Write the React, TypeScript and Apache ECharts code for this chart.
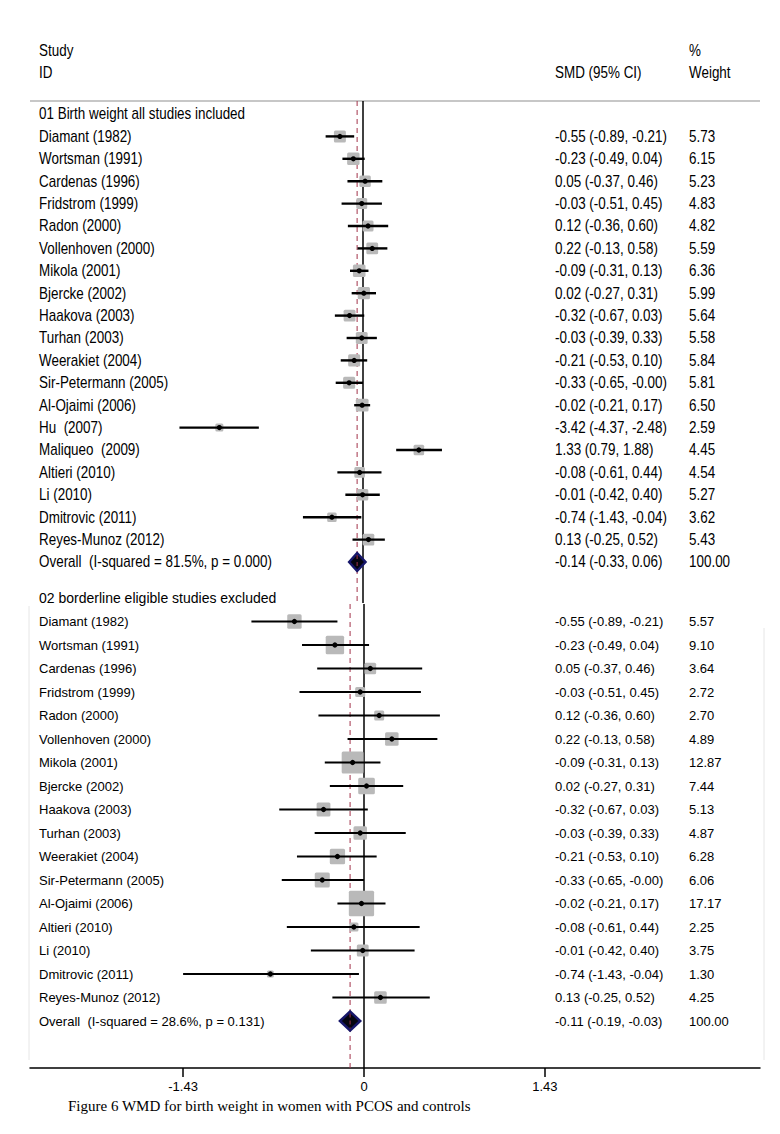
import { useEffect, useRef } from "react";
import * as echarts from "echarts";

// ---------- DATA ----------
const group1Title = "01 Birth weight all studies included";
const studies1 = [
  "Diamant (1982)", "Wortsman (1991)", "Cardenas (1996)", "Fridstrom (1999)", "Radon (2000)",
  "Vollenhoven (2000)", "Mikola (2001)", "Bjercke (2002)", "Haakova (2003)", "Turhan (2003)",
  "Weerakiet (2004)", "Sir-Petermann (2005)", "Al-Ojaimi (2006)", "Hu  (2007)", "Maliqueo  (2009)",
  "Altieri (2010)", "Li (2010)", "Dmitrovic (2011)", "Reyes-Munoz (2012)",
];
const smd1 = [-0.55, -0.23, 0.05, -0.03, 0.12, 0.22, -0.09, 0.02, -0.32, -0.03, -0.21, -0.33, -0.02, -3.42, 1.33, -0.08, -0.01, -0.74, 0.13];
const lo1 = [-0.89, -0.49, -0.37, -0.51, -0.36, -0.13, -0.31, -0.27, -0.67, -0.39, -0.53, -0.65, -0.21, -4.37, 0.79, -0.61, -0.42, -1.43, -0.25];
const hi1 = [-0.21, 0.04, 0.46, 0.45, 0.60, 0.58, 0.13, 0.31, 0.03, 0.33, 0.10, -0.0, 0.17, -2.48, 1.88, 0.44, 0.40, -0.04, 0.52];
const weight1 = [5.73, 6.15, 5.23, 4.83, 4.82, 5.59, 6.36, 5.99, 5.64, 5.58, 5.84, 5.81, 6.50, 2.59, 4.45, 4.54, 5.27, 3.62, 5.43];
const overall1 = [-0.14, -0.33, 0.06];
const het1 = ["81.5%", "0.000"];

const group2Title = "02 borderline eligible studies excluded";
const studies2 = [
  "Diamant (1982)", "Wortsman (1991)", "Cardenas (1996)", "Fridstrom (1999)", "Radon (2000)",
  "Vollenhoven (2000)", "Mikola (2001)", "Bjercke (2002)", "Haakova (2003)", "Turhan (2003)",
  "Weerakiet (2004)", "Sir-Petermann (2005)", "Al-Ojaimi (2006)", "Altieri (2010)", "Li (2010)",
  "Dmitrovic (2011)", "Reyes-Munoz (2012)",
];
const smd2 = [-0.55, -0.23, 0.05, -0.03, 0.12, 0.22, -0.09, 0.02, -0.32, -0.03, -0.21, -0.33, -0.02, -0.08, -0.01, -0.74, 0.13];
const lo2 = [-0.89, -0.49, -0.37, -0.51, -0.36, -0.13, -0.31, -0.27, -0.67, -0.39, -0.53, -0.65, -0.21, -0.61, -0.42, -1.43, -0.25];
const hi2 = [-0.21, 0.04, 0.46, 0.45, 0.60, 0.58, 0.13, 0.31, 0.03, 0.33, 0.10, -0.0, 0.17, 0.44, 0.40, -0.04, 0.52];
const weight2 = [5.57, 9.10, 3.64, 2.72, 2.70, 4.89, 12.87, 7.44, 5.13, 4.87, 6.28, 6.06, 17.17, 2.25, 3.75, 1.30, 4.25];
const overall2 = [-0.11, -0.19, -0.03];
const het2 = ["28.6%", "0.131"];

const xTickValues = [-1.43, 0, 1.43];
const headerLabels = ["Study", "ID", "SMD (95% CI)", "%", "Weight"];
const caption = "Figure 6 WMD for birth weight in women with PCOS and controls";

// ---------- STYLE ----------
const SANS = '"Liberation Sans", Arial, sans-serif';
const SERIF = '"Liberation Serif", "Times New Roman", serif';
const NARROW_FONT = `16px ${SANS}`;
const NARROW_SCALE = 0.84;

const fmt = (v: number) => (v < 0 || Object.is(v, -0) ? "-" : "") + Math.abs(v).toFixed(2);

type Panel = {
  title: string; names: string[]; smd: number[]; lo: number[]; hi: number[]; w: number[];
  overall: number[]; het: string[]; font: string; titleFont: string; sx: number; boxK: number; ciW: number; dH: number; grid: number;
};

const panels: Panel[] = [
  { title: group1Title, names: studies1, smd: smd1, lo: lo1, hi: hi1, w: weight1, overall: overall1, het: het1,
    font: NARROW_FONT, titleFont: NARROW_FONT, sx: NARROW_SCALE, boxK: 5.0, ciW: 2.4, dH: 9, grid: 0 },
  { title: group2Title, names: studies2, smd: smd2, lo: lo2, hi: hi2, w: weight2, overall: overall2, het: het2,
    font: `13px ${SANS}`, titleFont: `14px ${SANS}`, sx: 1, boxK: 6.1, ciW: 1.8, dH: 9.5, grid: 1 },
];

const COL_NAME = 39, COL_SMD = 555, COL_W = 689;

function txt(x: number, y: number, text: string, font: string, sx = 1) {
  return { type: "text", x, y, scaleX: sx, style: { text, font, fill: "#000", align: "left", verticalAlign: "middle" } };
}

function buildSeries(p: Panel) {
  const base = { type: "custom", xAxisIndex: p.grid, yAxisIndex: p.grid, clip: false, silent: true };
  const nRows = p.names.length;
  const lines = {
    ...base, z: 1,
    data: [[0, 0]],
    renderItem: (params: any, api: any) => {
      const cs = params.coordSys;
      const zx = api.coord([0, 0])[0];
      const ox = api.coord([p.overall[0], 0])[0];
      return {
        type: "group", children: [
          { type: "line", shape: { x1: zx, y1: cs.y, x2: zx, y2: cs.y + cs.height }, style: { stroke: "#000", lineWidth: 1.5 } },
          { type: "line", shape: { x1: ox, y1: cs.y, x2: ox, y2: cs.y + cs.height }, style: { stroke: "#a3334a", lineWidth: 1, lineDash: [5, 4] } },
        ],
      };
    },
  };
  const title = {
    ...base, z: 3,
    data: [[0, 0]],
    renderItem: (params: any, api: any) => {
      const y = api.coord([0, 0])[1];
      return txt(COL_NAME, y, p.title, p.titleFont, p.sx);
    },
  };
  const studies = {
    ...base, z: 2,
    encode: { x: [0, 2, 3], y: 1 },
    data: p.names.map((_, i) => [p.smd[i], i + 1, p.lo[i], p.hi[i], p.w[i]]),
    renderItem: (params: any, api: any) => {
      const i = params.dataIndex;
      const row = api.value(1);
      const c = api.coord([api.value(0), row]);
      const l = api.coord([api.value(2), row]);
      const h = api.coord([api.value(3), row]);
      const side = p.boxK * Math.sqrt(api.value(4));
      return {
        type: "group", children: [
          { type: "rect", shape: { x: c[0] - side / 2, y: c[1] - side / 2, width: side, height: side, r: 1.5 }, style: { fill: "#b9b9b9" } },
          { type: "line", shape: { x1: l[0], y1: c[1], x2: h[0], y2: c[1] }, style: { stroke: "#000", lineWidth: p.ciW } },
          { type: "circle", shape: { cx: c[0], cy: c[1], r: 2.6 }, style: { fill: "#000" } },
          txt(COL_NAME, c[1], p.names[i], p.font, p.sx),
          txt(COL_SMD, c[1], `${fmt(p.smd[i])} (${fmt(p.lo[i])}, ${fmt(p.hi[i])})`, p.font, p.sx),
          txt(COL_W, c[1], p.w[i].toFixed(2), p.font, p.sx),
        ],
      };
    },
  };
  const overall = {
    ...base, z: 4,
    encode: { x: [0, 2, 3], y: 1 },
    data: [[p.overall[0], nRows + 1, p.overall[1], p.overall[2]]],
    renderItem: (params: any, api: any) => {
      const row = api.value(1);
      const c = api.coord([api.value(0), row]);
      const l = api.coord([api.value(2), row]);
      const h = api.coord([api.value(3), row]);
      const d = p.dH;
      return {
        type: "group", children: [
          { type: "polygon", shape: { points: [[l[0], c[1]], [c[0], c[1] - d], [h[0], c[1]], [c[0], c[1] + d]] },
            style: { fill: "#050510", stroke: "#17176a", lineWidth: 2.5 } },
          { type: "line", shape: { x1: c[0], y1: c[1] - d + 2, x2: c[0], y2: c[1] + d - 2 }, style: { stroke: "#a3334a", lineWidth: 1, lineDash: [4, 3] } },
          txt(COL_NAME, c[1], `Overall  (I-squared = ${p.het[0]}, p = ${p.het[1]})`, p.font, p.sx),
          txt(COL_SMD, c[1], `${fmt(p.overall[0])} (${fmt(p.overall[1])}, ${fmt(p.overall[2])})`, p.font, p.sx),
          txt(COL_W, c[1], "100.00", p.font, p.sx),
        ],
      };
    },
  };
  return [lines, studies, overall, title];
}

export default function App() {
  const ref = useRef<HTMLDivElement>(null);
  useEffect(() => {
    if (!ref.current) return;
    const chart = echarts.init(ref.current, undefined, { renderer: "svg" });
    const hdr = (x: number, y: number, text: string) => ({
      type: "text", x, y, scaleX: NARROW_SCALE,
      style: { text, font: NARROW_FONT, fill: "#000", align: "left", verticalAlign: "middle" },
    });
    chart.setOption({
      animation: false,
      backgroundColor: "#fff",
      grid: [
        { left: 30, right: 20, top: 101, height: 502 },
        { left: 30, right: 20, top: 604, height: 464 },
      ],
      xAxis: [
        { gridIndex: 0, type: "value", min: (30 - 363) / 42, max: (760 - 363) / 42, show: false },
        {
          gridIndex: 1, type: "value", min: (30 - 364) / 126.5, max: (760 - 364) / 126.5,
          axisLine: { show: true, onZero: false, lineStyle: { color: "#000", width: 1.5 } },
          axisTick: { show: true, inside: false, length: 9, lineStyle: { color: "#000", width: 1.5 }, customValues: xTickValues },
          axisLabel: { show: true, margin: 12, color: "#000", fontSize: 13, fontFamily: SANS, customValues: xTickValues,
            formatter: (v: number) => String(v) },
          splitLine: { show: false },
        },
      ],
      yAxis: [
        { gridIndex: 0, type: "value", inverse: true, min: (101 - 114) / 22.4, max: (101 - 114) / 22.4 + 502 / 22.4, show: false },
        { gridIndex: 1, type: "value", inverse: true, min: 6 / 23.5, max: 6 / 23.5 + 464 / 23.5, show: false },
      ],
      graphic: [
        hdr(39, 51, headerLabels[0]),
        hdr(39, 73, headerLabels[1]),
        hdr(COL_SMD, 73, headerLabels[2]),
        hdr(COL_W, 51, headerLabels[3]),
        hdr(COL_W, 73, headerLabels[4]),
        { type: "line", shape: { x1: 30, y1: 101, x2: 760, y2: 101 }, style: { stroke: "#b4b4b4", lineWidth: 1.5 } },
        { type: "line", shape: { x1: 29, y1: 606, x2: 29, y2: 1060 }, style: { stroke: "#e6e6e6", lineWidth: 1 } },
        { type: "line", shape: { x1: 764, y1: 628, x2: 764, y2: 1060 }, style: { stroke: "#e6e6e6", lineWidth: 1 } },
        { type: "text", x: 68, y: 1106, style: { text: caption, font: `15px ${SERIF}`, fill: "#000", align: "left", verticalAlign: "middle" } },
      ],
      series: [...buildSeries(panels[0]), ...buildSeries(panels[1])],
    });
    return () => chart.dispose();
  }, []);
  return <div ref={ref} style={{ position: "fixed", left: 0, top: 0, width: 780, height: 1134, background: "#fff" }} />;
}
